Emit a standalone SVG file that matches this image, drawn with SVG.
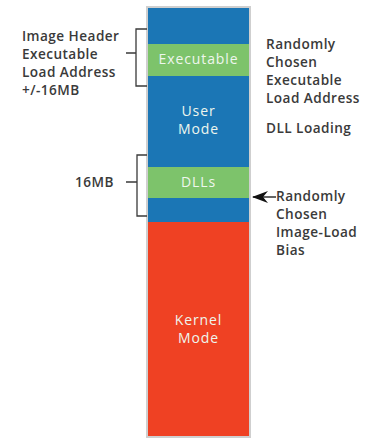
<svg xmlns="http://www.w3.org/2000/svg" width="371" height="439" viewBox="0 0 371 439">
<style>
.t{font-family:"Open Sans","Liberation Sans",sans-serif;font-size:13.6px;fill:#3a3a3a;font-weight:600;letter-spacing:0.45px}
.w{font-family:"Open Sans","Liberation Sans",sans-serif;font-size:14px;fill:#eef6ee;text-anchor:middle;letter-spacing:0.9px}
.br{fill:none;stroke:#3a3a3a;stroke-width:1.3}
</style>
<defs>
<marker id="ah" viewBox="0 0 16 12" refX="15" refY="6" markerWidth="16" markerHeight="12" orient="auto" markerUnits="userSpaceOnUse">
<path d="M0,0 L16,6 L0,12 L5,6 Z" fill="#111"/>
</marker>
</defs>
<rect x="0" y="0" width="371" height="439" fill="#fff"/>
<g id="column">
<rect x="146" y="6" width="105" height="432" fill="#cfcfcf"/>
<g id="user-top"><rect x="148" y="8" width="101" height="36" fill="#1b76b5"/></g>
<g id="executable"><rect x="148" y="44" width="101" height="32" fill="#7dc36b"/><text class="w" x="198.5" y="64">Executable</text></g>
<g id="user-mode"><rect x="148" y="76" width="101" height="91" fill="#1b76b5"/><text class="w" x="198.5" y="116">User</text><text class="w" x="198.5" y="134">Mode</text></g>
<g id="dlls"><rect x="148" y="167" width="101" height="31" fill="#7dc36b"/><text class="w" x="198.5" y="187">DLLs</text></g>
<g id="user-bottom"><rect x="148" y="198" width="101" height="24" fill="#1b76b5"/></g>
<g id="kernel-mode"><rect x="148" y="222" width="101" height="214" fill="#ef4123"/><text class="w" x="198.5" y="325">Kernel</text><text class="w" x="198.5" y="343">Mode</text></g>
</g>
<g id="connectors">
<path class="br" d="M147,29 H136 V86 H147 M136,53 H126"/>
<path class="br" d="M147,155 H137 V216 H147 M137,182 H126"/>
<line x1="276" y1="197" x2="253" y2="197" stroke="#111" stroke-width="1.3" marker-end="url(#ah)"/>
</g>
<g id="left-label">
<text class="t" x="22" y="41">Image Header</text>
<text class="t" x="22" y="59">Executable</text>
<text class="t" x="22" y="77">Load Address</text>
<text class="t" x="22" y="95">+/-16MB</text>
</g>
<g id="size-label"><text class="t" x="75" y="187">16MB</text></g>
<g id="right-label">
<text class="t" x="266" y="49">Randomly</text>
<text class="t" x="266" y="67">Chosen</text>
<text class="t" x="266" y="85">Executable</text>
<text class="t" x="266" y="103">Load Address</text>
<text class="t" x="266" y="133">DLL Loading</text>
</g>
<g id="bias-label">
<text class="t" x="276" y="201">Randomly</text>
<text class="t" x="276" y="219">Chosen</text>
<text class="t" x="276" y="237">Image-Load</text>
<text class="t" x="276" y="255">Bias</text>
</g>
</svg>
